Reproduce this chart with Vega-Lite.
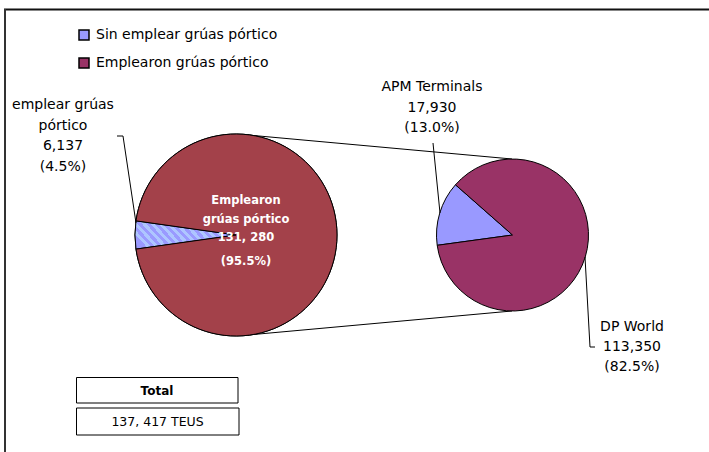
{
  "$schema": "https://vega.github.io/schema/vega-lite/v6.json",
  "width": 709,
  "height": 452,
  "autosize": "none",
  "padding": 0,
  "background": "white",
  "config": {"view": {"stroke": null}, "axis": {"disable": true}, "font": "DejaVu Sans"},
  "data": {"values": [
    {"group": "left", "category": "Sin emplear grúas pórtico", "value": 6137, "pct": 4.5},
    {"group": "left", "category": "Emplearon grúas pórtico", "value": 131280, "pct": 95.5},
    {"group": "right", "category": "APM Terminals", "value": 17930, "pct": 13.0},
    {"group": "right", "category": "DP World", "value": 113350, "pct": 82.5}
  ]},
  "resolve": {"scale": {"theta": "independent", "color": "independent"}},
  "layer": [
    {
      "data": {"values": [{}]},
      "mark": {"type": "rule", "stroke": "#111111", "strokeWidth": 2},
      "encoding": {
        "x": {"datum": 4, "type": "quantitative", "scale": {"domain": [0, 709], "nice": false, "zero": false}, "axis": null},
        "x2": {"datum": 709},
        "y": {"datum": 9.5, "type": "quantitative", "scale": {"domain": [452, 0], "nice": false, "zero": false}, "axis": null}
      }
    },
    {
      "data": {"values": [{}]},
      "mark": {"type": "rule", "stroke": "#333333", "strokeWidth": 2},
      "encoding": {
        "x": {"datum": 5, "type": "quantitative", "scale": {"domain": [0, 709], "nice": false, "zero": false}, "axis": null},
        "y": {"datum": 9, "type": "quantitative", "scale": {"domain": [452, 0], "nice": false, "zero": false}, "axis": null},
        "y2": {"datum": 452}
      }
    },
    {
      "data": {"values": [{}]},
      "mark": {"type": "rule", "stroke": "black", "strokeWidth": 1},
      "encoding": {
        "x": {"datum": 248, "type": "quantitative", "scale": {"domain": [0, 709], "nice": false, "zero": false}, "axis": null},
        "y": {"datum": 135, "type": "quantitative", "scale": {"domain": [452, 0], "nice": false, "zero": false}, "axis": null},
        "x2": {"datum": 512},
        "y2": {"datum": 159}
      }
    },
    {
      "data": {"values": [{}]},
      "mark": {"type": "rule", "stroke": "black", "strokeWidth": 1},
      "encoding": {
        "x": {"datum": 248, "type": "quantitative", "scale": {"domain": [0, 709], "nice": false, "zero": false}, "axis": null},
        "y": {"datum": 335, "type": "quantitative", "scale": {"domain": [452, 0], "nice": false, "zero": false}, "axis": null},
        "x2": {"datum": 512},
        "y2": {"datum": 311}
      }
    },
    {
      "transform": [{"filter": "datum.group === 'left'"}],
      "mark": {"type": "arc", "radius": 101, "stroke": "black", "strokeWidth": 1},
      "encoding": {
        "x": {"datum": 236, "type": "quantitative", "scale": {"domain": [0, 709], "nice": false, "zero": false}, "axis": null},
        "y": {"datum": 235, "type": "quantitative", "scale": {"domain": [452, 0], "nice": false, "zero": false}, "axis": null},
        "theta": {"field": "value", "type": "quantitative", "stack": true, "scale": {"range": [4.5721, 10.8553]}},
        "order": {"field": "value", "sort": "ascending"},
        "color": {
          "field": "category", "type": "nominal",
          "scale": {"domain": ["Sin emplear grúas pórtico", "Emplearon grúas pórtico"], "range": ["#9999FF", "#993366"]},
          "legend": {
            "orient": "none", "legendX": 77, "legendY": 28, "title": null,
            "symbolType": "square", "symbolSize": 100, "symbolStrokeColor": "black", "symbolStrokeWidth": 1.5,
            "labelFont": "DejaVu Sans", "labelFontSize": 14, "labelColor": "black", "labelOffset": 5, "rowPadding": 12, "labelLimit": 400
          }
        }
      }
    },
    {
      "transform": [{"filter": "datum.group === 'left'"}],
      "mark": {"type": "arc", "radius": 101, "stroke": "black", "strokeWidth": 1},
      "encoding": {
        "x": {"datum": 236, "type": "quantitative", "scale": {"domain": [0, 709], "nice": false, "zero": false}, "axis": null},
        "y": {"datum": 235, "type": "quantitative", "scale": {"domain": [452, 0], "nice": false, "zero": false}, "axis": null},
        "theta": {"field": "value", "type": "quantitative", "stack": true, "scale": {"range": [4.5721, 10.8553]}},
        "order": {"field": "value", "sort": "ascending"},
        "fill": {
          "condition": {
            "test": "datum.category === 'Sin emplear grúas pórtico'",
            "value": {
              "gradient": "linear", "x1": 0, "y1": 0.63, "x2": 1, "y2": 0.37,
              "stops": [
                {"offset": 0.0, "color": "#9A9AFF"}, {"offset": 0.0385, "color": "#9A9AFF"}, {"offset": 0.0385, "color": "#AEC6FF"}, {"offset": 0.0769, "color": "#AEC6FF"},
                {"offset": 0.0769, "color": "#9A9AFF"}, {"offset": 0.1154, "color": "#9A9AFF"}, {"offset": 0.1154, "color": "#AEC6FF"}, {"offset": 0.1538, "color": "#AEC6FF"},
                {"offset": 0.1538, "color": "#9A9AFF"}, {"offset": 0.1923, "color": "#9A9AFF"}, {"offset": 0.1923, "color": "#AEC6FF"}, {"offset": 0.2308, "color": "#AEC6FF"},
                {"offset": 0.2308, "color": "#9A9AFF"}, {"offset": 0.2692, "color": "#9A9AFF"}, {"offset": 0.2692, "color": "#AEC6FF"}, {"offset": 0.3077, "color": "#AEC6FF"},
                {"offset": 0.3077, "color": "#9A9AFF"}, {"offset": 0.3462, "color": "#9A9AFF"}, {"offset": 0.3462, "color": "#AEC6FF"}, {"offset": 0.3846, "color": "#AEC6FF"},
                {"offset": 0.3846, "color": "#9A9AFF"}, {"offset": 0.4231, "color": "#9A9AFF"}, {"offset": 0.4231, "color": "#AEC6FF"}, {"offset": 0.4615, "color": "#AEC6FF"},
                {"offset": 0.4615, "color": "#9A9AFF"}, {"offset": 0.5, "color": "#9A9AFF"}, {"offset": 0.5, "color": "#AEC6FF"}, {"offset": 0.5385, "color": "#AEC6FF"},
                {"offset": 0.5385, "color": "#9A9AFF"}, {"offset": 0.5769, "color": "#9A9AFF"}, {"offset": 0.5769, "color": "#AEC6FF"}, {"offset": 0.6154, "color": "#AEC6FF"},
                {"offset": 0.6154, "color": "#9A9AFF"}, {"offset": 0.6538, "color": "#9A9AFF"}, {"offset": 0.6538, "color": "#AEC6FF"}, {"offset": 0.6923, "color": "#AEC6FF"},
                {"offset": 0.6923, "color": "#9A9AFF"}, {"offset": 0.7308, "color": "#9A9AFF"}, {"offset": 0.7308, "color": "#AEC6FF"}, {"offset": 0.7692, "color": "#AEC6FF"},
                {"offset": 0.7692, "color": "#9A9AFF"}, {"offset": 0.8077, "color": "#9A9AFF"}, {"offset": 0.8077, "color": "#AEC6FF"}, {"offset": 0.8462, "color": "#AEC6FF"},
                {"offset": 0.8462, "color": "#9A9AFF"}, {"offset": 0.8846, "color": "#9A9AFF"}, {"offset": 0.8846, "color": "#AEC6FF"}, {"offset": 0.9231, "color": "#AEC6FF"},
                {"offset": 0.9231, "color": "#9A9AFF"}, {"offset": 0.9615, "color": "#9A9AFF"}, {"offset": 0.9615, "color": "#AEC6FF"}, {"offset": 1.0, "color": "#AEC6FF"}
              ]
            }
          },
          "value": "#A3414A"
        }
      }
    },
    {
      "transform": [{"filter": "datum.group === 'right'"}],
      "mark": {"type": "arc", "radius": 76, "stroke": "black", "strokeWidth": 1},
      "encoding": {
        "x": {"datum": 512.5, "type": "quantitative", "scale": {"domain": [0, 709], "nice": false, "zero": false}, "axis": null},
        "y": {"datum": 235, "type": "quantitative", "scale": {"domain": [452, 0], "nice": false, "zero": false}, "axis": null},
        "theta": {"field": "value", "type": "quantitative", "stack": true, "scale": {"range": [4.5763, 10.8595]}},
        "order": {"field": "value", "sort": "ascending"},
        "color": {
          "field": "category", "type": "nominal",
          "scale": {"domain": ["APM Terminals", "DP World"], "range": ["#9999FF", "#993366"]},
          "legend": null
        }
      }
    },
    {
      "data": {"values": [{}]},
      "mark": {"type": "rule", "stroke": "black", "strokeWidth": 1},
      "encoding": {
        "x": {"datum": 117, "type": "quantitative", "scale": {"domain": [0, 709], "nice": false, "zero": false}, "axis": null},
        "y": {"datum": 136, "type": "quantitative", "scale": {"domain": [452, 0], "nice": false, "zero": false}, "axis": null},
        "x2": {"datum": 123},
        "y2": {"datum": 136}
      }
    },
    {
      "data": {"values": [{}]},
      "mark": {"type": "rule", "stroke": "black", "strokeWidth": 1},
      "encoding": {
        "x": {"datum": 123, "type": "quantitative", "scale": {"domain": [0, 709], "nice": false, "zero": false}, "axis": null},
        "y": {"datum": 136, "type": "quantitative", "scale": {"domain": [452, 0], "nice": false, "zero": false}, "axis": null},
        "x2": {"datum": 136},
        "y2": {"datum": 223}
      }
    },
    {
      "data": {"values": [{}]},
      "mark": {"type": "rule", "stroke": "black", "strokeWidth": 1},
      "encoding": {
        "x": {"datum": 433, "type": "quantitative", "scale": {"domain": [0, 709], "nice": false, "zero": false}, "axis": null},
        "y": {"datum": 143, "type": "quantitative", "scale": {"domain": [452, 0], "nice": false, "zero": false}, "axis": null},
        "x2": {"datum": 440},
        "y2": {"datum": 213}
      }
    },
    {
      "data": {"values": [{}]},
      "mark": {"type": "rule", "stroke": "black", "strokeWidth": 1},
      "encoding": {
        "x": {"datum": 585, "type": "quantitative", "scale": {"domain": [0, 709], "nice": false, "zero": false}, "axis": null},
        "y": {"datum": 257, "type": "quantitative", "scale": {"domain": [452, 0], "nice": false, "zero": false}, "axis": null},
        "x2": {"datum": 590},
        "y2": {"datum": 347}
      }
    },
    {
      "data": {"values": [{}]},
      "mark": {"type": "rule", "stroke": "black", "strokeWidth": 1},
      "encoding": {
        "x": {"datum": 590, "type": "quantitative", "scale": {"domain": [0, 709], "nice": false, "zero": false}, "axis": null},
        "y": {"datum": 347, "type": "quantitative", "scale": {"domain": [452, 0], "nice": false, "zero": false}, "axis": null},
        "x2": {"datum": 595},
        "y2": {"datum": 347}
      }
    },
    {
      "transform": [
        {"filter": "datum.category === 'Sin emplear grúas pórtico'"},
        {"calculate": "'emplear grúas\\npórtico\\n' + format(datum.value, ',') + '\\n(' + format(datum.pct, '.1f') + '%)'", "as": "txt"}
      ],
      "mark": {"type": "text", "font": "DejaVu Sans", "fontSize": 14, "lineHeight": 20.7, "lineBreak": "\n", "align": "center", "baseline": "middle", "color": "black"},
      "encoding": {
        "x": {"datum": 63, "type": "quantitative", "scale": {"domain": [0, 709], "nice": false, "zero": false}, "axis": null},
        "y": {"datum": 105, "type": "quantitative", "scale": {"domain": [452, 0], "nice": false, "zero": false}, "axis": null},
        "text": {"field": "txt", "type": "nominal"}
      }
    },
    {
      "transform": [
        {"filter": "datum.category === 'Emplearon grúas pórtico'"},
        {"calculate": "'Emplearon\\ngrúas pórtico\\n' + replace(format(datum.value, ','), ',', ', ')", "as": "txt"}
      ],
      "mark": {"type": "text", "font": "DejaVu Sans", "fontSize": 11.5, "fontWeight": "bold", "lineHeight": 18.5, "lineBreak": "\n", "align": "center", "baseline": "middle", "color": "white"},
      "encoding": {
        "x": {"datum": 246, "type": "quantitative", "scale": {"domain": [0, 709], "nice": false, "zero": false}, "axis": null},
        "y": {"datum": 201, "type": "quantitative", "scale": {"domain": [452, 0], "nice": false, "zero": false}, "axis": null},
        "text": {"field": "txt", "type": "nominal"}
      }
    },
    {
      "transform": [
        {"filter": "datum.category === 'Emplearon grúas pórtico'"},
        {"calculate": "'(' + format(datum.pct, '.1f') + '%)'", "as": "txt"}
      ],
      "mark": {"type": "text", "font": "DejaVu Sans", "fontSize": 11.5, "fontWeight": "bold", "align": "center", "baseline": "middle", "color": "white"},
      "encoding": {
        "x": {"datum": 246, "type": "quantitative", "scale": {"domain": [0, 709], "nice": false, "zero": false}, "axis": null},
        "y": {"datum": 262, "type": "quantitative", "scale": {"domain": [452, 0], "nice": false, "zero": false}, "axis": null},
        "text": {"field": "txt", "type": "nominal"}
      }
    },
    {
      "transform": [
        {"filter": "datum.category === 'APM Terminals'"},
        {"calculate": "datum.category + '\\n' + format(datum.value, ',') + '\\n(' + format(datum.pct, '.1f') + '%)'", "as": "txt"}
      ],
      "mark": {"type": "text", "font": "DejaVu Sans", "fontSize": 14, "lineHeight": 20.5, "lineBreak": "\n", "align": "center", "baseline": "middle", "color": "black"},
      "encoding": {
        "x": {"datum": 432, "type": "quantitative", "scale": {"domain": [0, 709], "nice": false, "zero": false}, "axis": null},
        "y": {"datum": 87, "type": "quantitative", "scale": {"domain": [452, 0], "nice": false, "zero": false}, "axis": null},
        "text": {"field": "txt", "type": "nominal"}
      }
    },
    {
      "transform": [
        {"filter": "datum.category === 'DP World'"},
        {"calculate": "datum.category + '\\n' + format(datum.value, ',') + '\\n(' + format(datum.pct, '.1f') + '%)'", "as": "txt"}
      ],
      "mark": {"type": "text", "font": "DejaVu Sans", "fontSize": 14, "lineHeight": 20, "lineBreak": "\n", "align": "center", "baseline": "middle", "color": "black"},
      "encoding": {
        "x": {"datum": 632, "type": "quantitative", "scale": {"domain": [0, 709], "nice": false, "zero": false}, "axis": null},
        "y": {"datum": 327, "type": "quantitative", "scale": {"domain": [452, 0], "nice": false, "zero": false}, "axis": null},
        "text": {"field": "txt", "type": "nominal"}
      }
    },
    {
      "data": {"values": [{}]},
      "mark": {"type": "rect", "fill": "white", "stroke": "black", "strokeWidth": 1},
      "encoding": {
        "x": {"datum": 76.5, "type": "quantitative", "scale": {"domain": [0, 709], "nice": false, "zero": false}, "axis": null},
        "x2": {"datum": 238},
        "y": {"datum": 377.5, "type": "quantitative", "scale": {"domain": [452, 0], "nice": false, "zero": false}, "axis": null},
        "y2": {"datum": 403}
      }
    },
    {
      "data": {"values": [{}]},
      "mark": {"type": "rect", "fill": "white", "stroke": "black", "strokeWidth": 1},
      "encoding": {
        "x": {"datum": 76.5, "type": "quantitative", "scale": {"domain": [0, 709], "nice": false, "zero": false}, "axis": null},
        "x2": {"datum": 239},
        "y": {"datum": 408, "type": "quantitative", "scale": {"domain": [452, 0], "nice": false, "zero": false}, "axis": null},
        "y2": {"datum": 435}
      }
    },
    {
      "data": {"values": [{}]},
      "mark": {"type": "text", "font": "DejaVu Sans", "fontSize": 12, "fontWeight": "bold", "align": "center", "baseline": "middle", "color": "black"},
      "encoding": {
        "x": {"datum": 157, "type": "quantitative", "scale": {"domain": [0, 709], "nice": false, "zero": false}, "axis": null},
        "y": {"datum": 390.5, "type": "quantitative", "scale": {"domain": [452, 0], "nice": false, "zero": false}, "axis": null},
        "text": {"value": "Total"}
      }
    },
    {
      "transform": [
        {"filter": "datum.group === 'left'"},
        {"aggregate": [{"op": "sum", "field": "value", "as": "total"}]},
        {"calculate": "replace(format(datum.total, ','), ',', ', ') + ' TEUS'", "as": "txt"}
      ],
      "mark": {"type": "text", "font": "DejaVu Sans", "fontSize": 12.5, "align": "center", "baseline": "middle", "color": "black"},
      "encoding": {
        "x": {"datum": 157.5, "type": "quantitative", "scale": {"domain": [0, 709], "nice": false, "zero": false}, "axis": null},
        "y": {"datum": 421.5, "type": "quantitative", "scale": {"domain": [452, 0], "nice": false, "zero": false}, "axis": null},
        "text": {"field": "txt", "type": "nominal"}
      }
    }
  ]
}
